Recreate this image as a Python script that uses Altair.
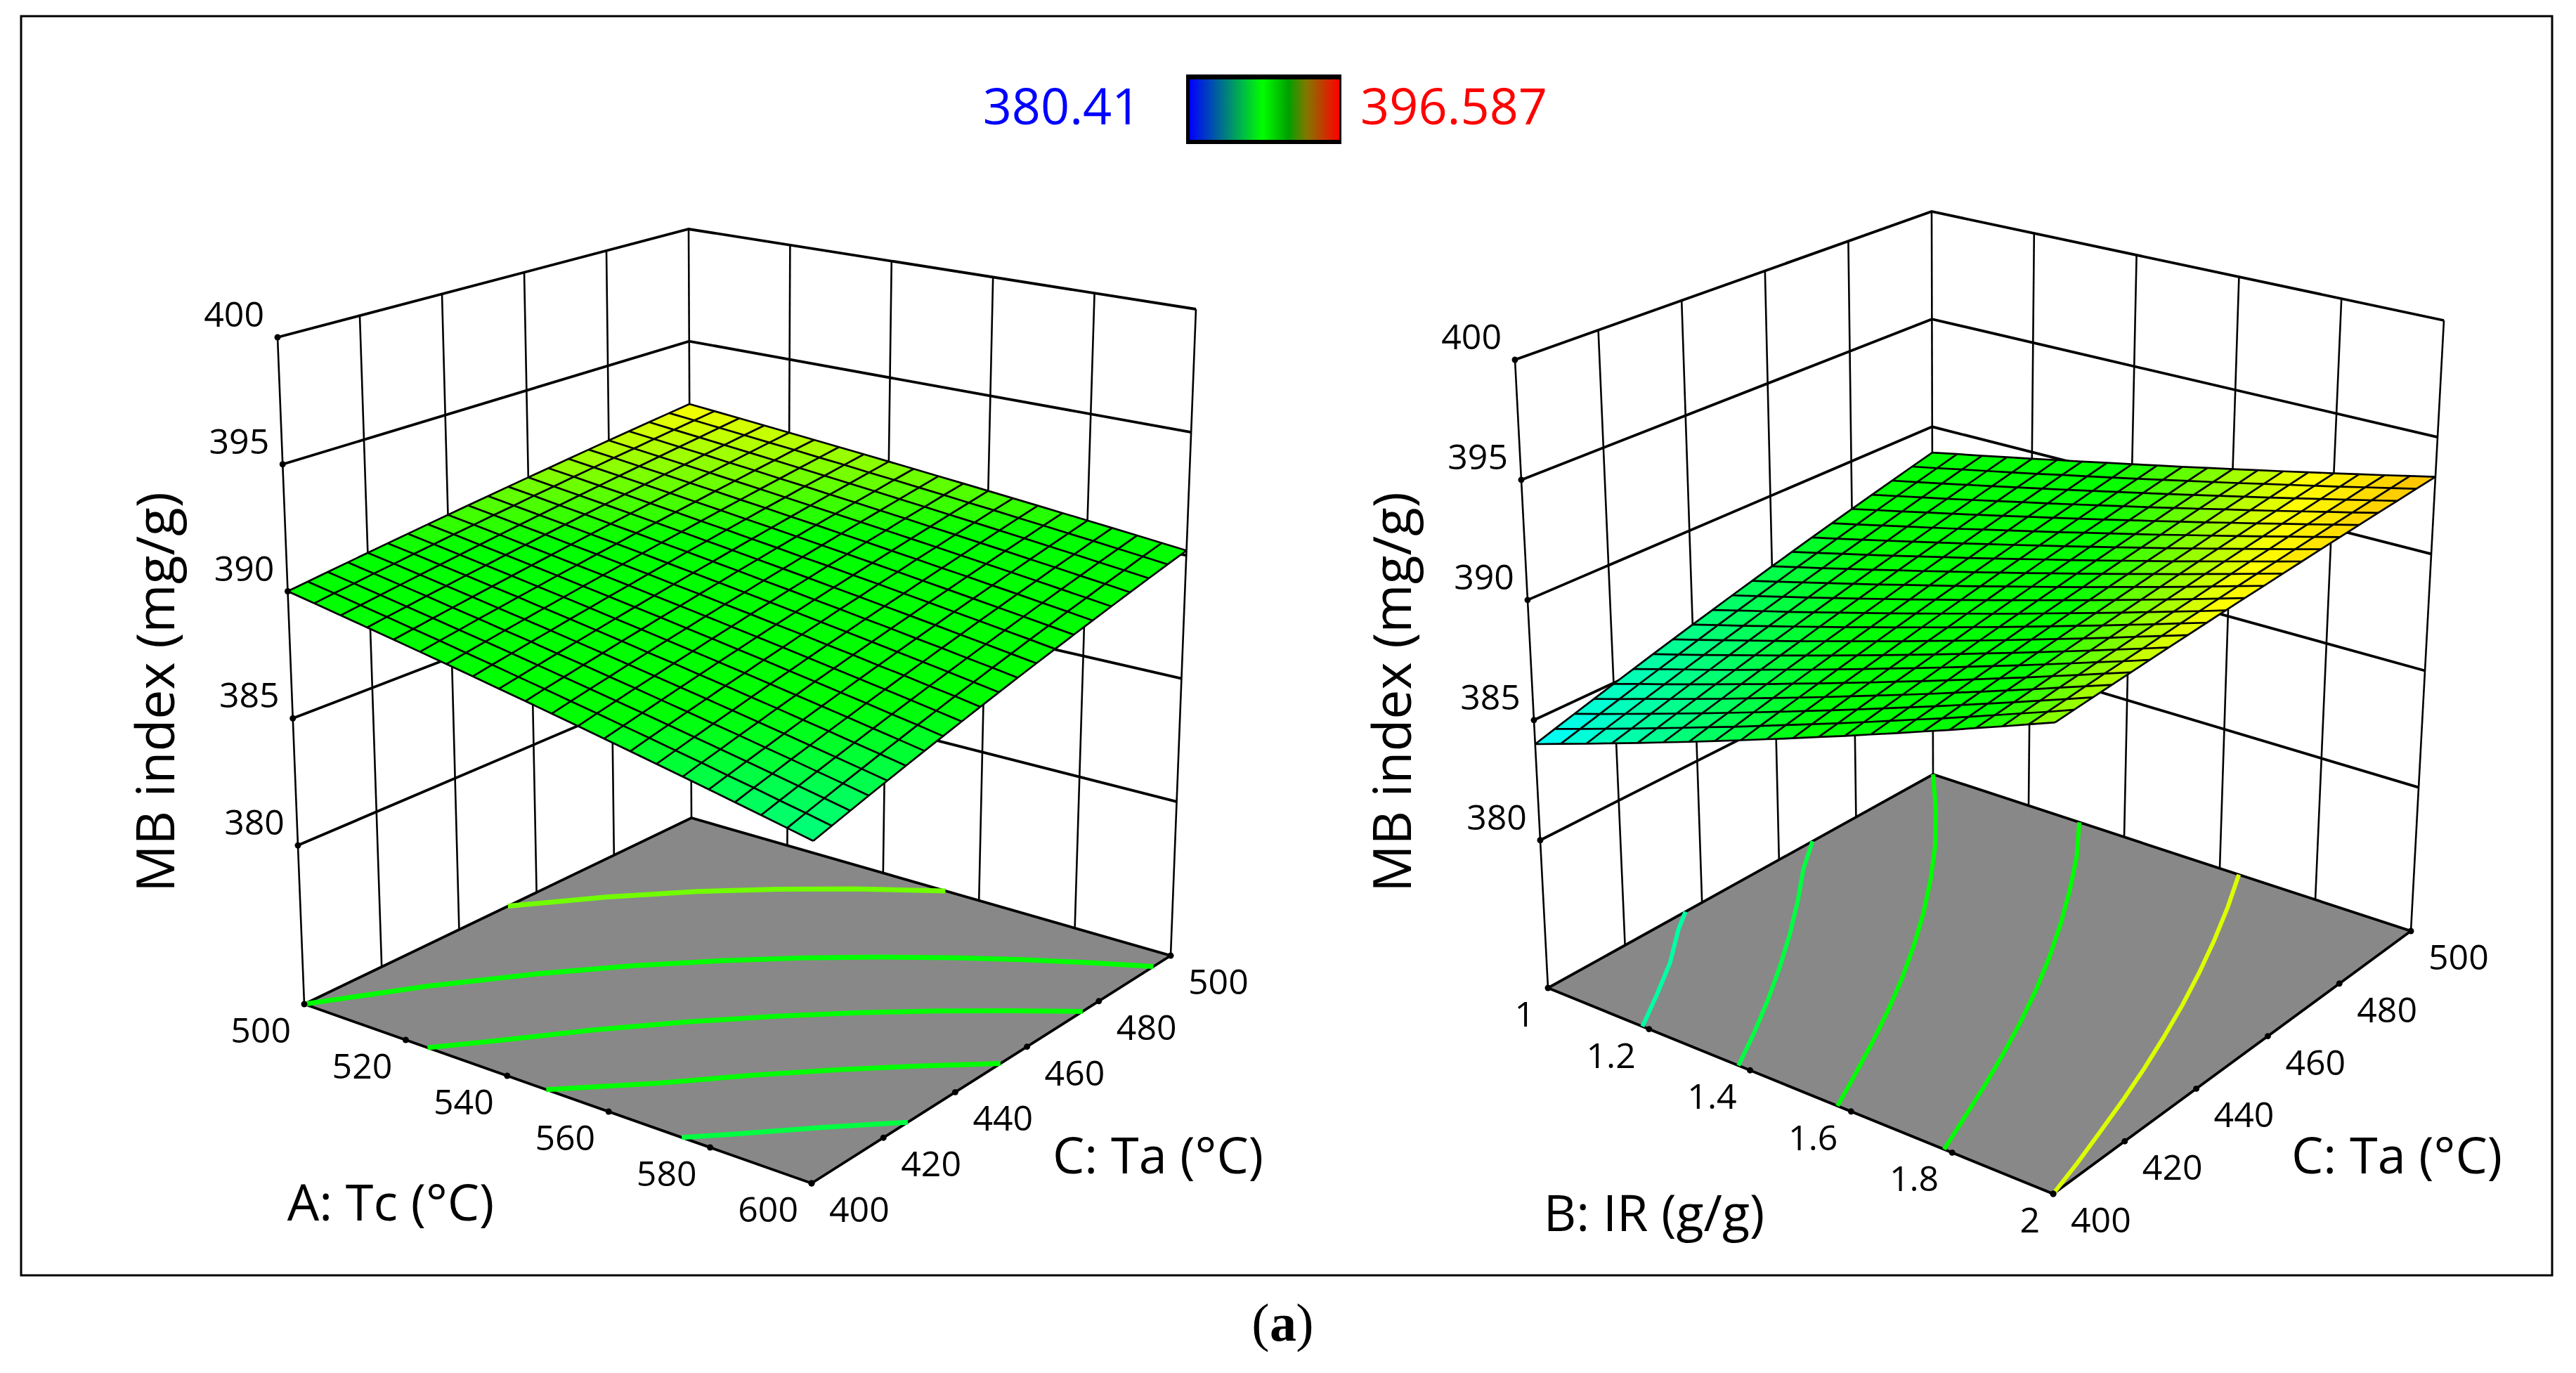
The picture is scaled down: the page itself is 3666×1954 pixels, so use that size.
import numpy as np
import pandas as pd
import altair as alt

alt.data_transformers.disable_max_rows()

# ---------- values ----------
Z_TICKS = [380, 385, 390, 395, 400]
TC_TICKS = [500, 520, 540, 560, 580, 600]
IR_TICKS = [1, 1.2, 1.4, 1.6, 1.8, 2]
IR_LABELS = ["1", "1.2", "1.4", "1.6", "1.8", "2"]
TA_TICKS = [400, 420, 440, 460, 480, 500]
TITLE_Y = "MB index (mg/g)"
LEGEND_MIN = 380.41
LEGEND_MAX = 396.587

# surface rows: Tc (or IR) low -> high, columns: Ta 400 -> 500
Z_LEFT = [
[390.00,390.11,390.22,390.33,390.44,390.55,390.66,390.77,390.88,390.99,391.10,391.21,391.32,391.43,391.54,391.65,391.76,391.87,391.98,392.09,392.20],
[389.80,389.92,390.03,390.15,390.26,390.38,390.49,390.61,390.72,390.84,390.95,391.07,391.18,391.30,391.41,391.53,391.64,391.76,391.87,391.99,392.10],
[389.60,389.72,389.84,389.96,390.08,390.20,390.32,390.44,390.56,390.68,390.80,390.92,391.04,391.16,391.28,391.40,391.52,391.64,391.76,391.88,392.00],
[389.40,389.53,389.65,389.78,389.90,390.03,390.15,390.28,390.40,390.53,390.65,390.78,390.90,391.03,391.15,391.28,391.40,391.53,391.65,391.78,391.90],
[389.20,389.33,389.46,389.59,389.72,389.85,389.98,390.11,390.24,390.37,390.50,390.63,390.76,390.89,391.02,391.15,391.28,391.41,391.54,391.67,391.80],
[389.00,389.14,389.27,389.41,389.54,389.68,389.81,389.95,390.08,390.22,390.35,390.49,390.62,390.76,390.89,391.03,391.16,391.30,391.43,391.57,391.70],
[388.80,388.94,389.08,389.22,389.36,389.50,389.64,389.78,389.92,390.06,390.20,390.34,390.48,390.62,390.76,390.90,391.04,391.18,391.32,391.46,391.60],
[388.60,388.75,388.89,389.04,389.18,389.33,389.47,389.62,389.76,389.91,390.05,390.20,390.34,390.49,390.63,390.78,390.92,391.07,391.21,391.36,391.50],
[388.40,388.55,388.70,388.85,389.00,389.15,389.30,389.45,389.60,389.75,389.90,390.05,390.20,390.35,390.50,390.65,390.80,390.95,391.10,391.25,391.40],
[388.20,388.36,388.51,388.67,388.82,388.98,389.13,389.29,389.44,389.60,389.75,389.91,390.06,390.22,390.37,390.53,390.68,390.84,390.99,391.15,391.30],
[388.00,388.16,388.32,388.48,388.64,388.80,388.96,389.12,389.28,389.44,389.60,389.76,389.92,390.08,390.24,390.40,390.56,390.72,390.88,391.04,391.20],
[387.80,387.97,388.13,388.30,388.46,388.63,388.79,388.96,389.12,389.29,389.45,389.62,389.78,389.95,390.11,390.28,390.44,390.61,390.77,390.94,391.10],
[387.60,387.77,387.94,388.11,388.28,388.45,388.62,388.79,388.96,389.13,389.30,389.47,389.64,389.81,389.98,390.15,390.32,390.49,390.66,390.83,391.00],
[387.40,387.58,387.75,387.93,388.10,388.28,388.45,388.63,388.80,388.98,389.15,389.33,389.50,389.68,389.85,390.03,390.20,390.38,390.55,390.73,390.90],
[387.20,387.38,387.56,387.74,387.92,388.10,388.28,388.46,388.64,388.82,389.00,389.18,389.36,389.54,389.72,389.90,390.08,390.26,390.44,390.62,390.80],
[387.00,387.19,387.37,387.56,387.74,387.93,388.11,388.30,388.48,388.67,388.85,389.04,389.22,389.41,389.59,389.78,389.96,390.15,390.33,390.52,390.70],
[386.80,386.99,387.18,387.37,387.56,387.75,387.94,388.13,388.32,388.51,388.70,388.89,389.08,389.27,389.46,389.65,389.84,390.03,390.22,390.41,390.60],
[386.60,386.80,386.99,387.19,387.38,387.58,387.77,387.97,388.16,388.36,388.55,388.75,388.94,389.14,389.33,389.53,389.72,389.92,390.11,390.31,390.50],
[386.40,386.60,386.80,387.00,387.20,387.40,387.60,387.80,388.00,388.20,388.40,388.60,388.80,389.00,389.20,389.40,389.60,389.80,390.00,390.20,390.40],
[386.20,386.41,386.61,386.82,387.02,387.23,387.43,387.64,387.84,388.05,388.25,388.46,388.66,388.87,389.07,389.28,389.48,389.69,389.89,390.10,390.30],
[386.00,386.21,386.42,386.63,386.84,387.05,387.26,387.47,387.68,387.89,388.10,388.31,388.52,388.73,388.94,389.15,389.36,389.57,389.78,389.99,390.20],
]
Z_RIGHT = [
[384.00,384.24,384.48,384.72,384.96,385.20,385.44,385.68,385.92,386.16,386.40,386.64,386.88,387.12,387.36,387.60,387.84,388.08,388.32,388.56,388.80],
[384.38,384.61,384.84,385.07,385.31,385.54,385.77,386.00,386.24,386.47,386.70,386.93,387.17,387.40,387.63,387.86,388.10,388.33,388.56,388.79,389.03],
[384.75,384.98,385.20,385.43,385.65,385.88,386.10,386.33,386.55,386.78,387.00,387.23,387.45,387.68,387.90,388.13,388.35,388.58,388.80,389.03,389.25],
[385.13,385.34,385.56,385.78,386.00,386.21,386.43,386.65,386.87,387.08,387.30,387.52,387.74,387.95,388.17,388.39,388.61,388.82,389.04,389.26,389.48],
[385.50,385.71,385.92,386.13,386.34,386.55,386.76,386.97,387.18,387.39,387.60,387.81,388.02,388.23,388.44,388.65,388.86,389.07,389.28,389.49,389.70],
[385.88,386.08,386.28,386.48,386.69,386.89,387.09,387.29,387.50,387.70,387.90,388.10,388.31,388.51,388.71,388.91,389.12,389.32,389.52,389.72,389.93],
[386.25,386.45,386.64,386.84,387.03,387.23,387.42,387.62,387.81,388.01,388.20,388.40,388.59,388.79,388.98,389.18,389.37,389.57,389.76,389.96,390.15],
[386.63,386.81,387.00,387.19,387.38,387.56,387.75,387.94,388.13,388.31,388.50,388.69,388.88,389.06,389.25,389.44,389.63,389.81,390.00,390.19,390.38],
[387.00,387.18,387.36,387.54,387.72,387.90,388.08,388.26,388.44,388.62,388.80,388.98,389.16,389.34,389.52,389.70,389.88,390.06,390.24,390.42,390.60],
[387.38,387.55,387.72,387.89,388.07,388.24,388.41,388.58,388.76,388.93,389.10,389.27,389.45,389.62,389.79,389.96,390.14,390.31,390.48,390.65,390.83],
[387.75,387.92,388.08,388.25,388.41,388.58,388.74,388.91,389.07,389.24,389.40,389.57,389.73,389.90,390.06,390.23,390.39,390.56,390.72,390.89,391.05],
[388.13,388.28,388.44,388.60,388.76,388.91,389.07,389.23,389.39,389.54,389.70,389.86,390.02,390.17,390.33,390.49,390.65,390.80,390.96,391.12,391.28],
[388.50,388.65,388.80,388.95,389.10,389.25,389.40,389.55,389.70,389.85,390.00,390.15,390.30,390.45,390.60,390.75,390.90,391.05,391.20,391.35,391.50],
[388.88,389.02,389.16,389.30,389.45,389.59,389.73,389.87,390.02,390.16,390.30,390.44,390.59,390.73,390.87,391.01,391.16,391.30,391.44,391.58,391.73],
[389.25,389.39,389.52,389.66,389.79,389.93,390.06,390.20,390.33,390.47,390.60,390.74,390.87,391.01,391.14,391.28,391.41,391.55,391.68,391.82,391.95],
[389.63,389.75,389.88,390.01,390.14,390.26,390.39,390.52,390.65,390.77,390.90,391.03,391.16,391.28,391.41,391.54,391.67,391.79,391.92,392.05,392.18],
[390.00,390.12,390.24,390.36,390.48,390.60,390.72,390.84,390.96,391.08,391.20,391.32,391.44,391.56,391.68,391.80,391.92,392.04,392.16,392.28,392.40],
[390.38,390.49,390.60,390.71,390.83,390.94,391.05,391.16,391.28,391.39,391.50,391.61,391.73,391.84,391.95,392.06,392.18,392.29,392.40,392.51,392.63],
[390.75,390.86,390.96,391.07,391.17,391.28,391.38,391.49,391.59,391.70,391.80,391.91,392.01,392.12,392.22,392.33,392.43,392.54,392.64,392.75,392.85],
[391.13,391.22,391.32,391.42,391.52,391.61,391.71,391.81,391.91,392.00,392.10,392.20,392.30,392.39,392.49,392.59,392.69,392.78,392.88,392.98,393.08],
[391.50,391.59,391.68,391.77,391.86,391.95,392.04,392.13,392.22,392.31,392.40,392.49,392.58,392.67,392.76,392.85,392.94,393.03,393.12,393.21,393.30],
]

# contour lines on the floor: level, factor (Tc / IR) values, Ta values
CONTOURS_LEFT = [
 (391.2, [500,510,520,530,540,553], [452.6,465.7,476.3,484.9,492.2,500]),
 (390, [500,510,520,530,540,550,560,570,580,590,600], [400,418.8,433.9,446.3,456.7,465.6,473.2,479.8,485.6,490.7,495.2]),
 (389, [524.3,530,540,550,560,570,580,590,600], [400,408.1,422.5,434.7,445.2,454.3,462.2,469.2,475.5]),
 (388, [547.7,560,570,580,590,600], [400,413.5,425.2,435.5,444.5,452.6]),
 (387, [574.4,580,590,600], [400,406.0,417.0,426.8]),
]
CONTOURS_RIGHT = [
 (385.5, [1.187,1.14,1.09,1.03,1.0], [400,410,420,430,435.7]),
 (387.0, [1.377,1.333,1.285,1.233,1.177,1.116,1.05,1.0], [400,410,420,430,440,450,460,468.7]),
 (388.5, [1.573,1.535,1.495,1.452,1.405,1.353,1.296,1.233,1.164,1.086,1.0], [400,410,420,430,440,450,460,470,480,490,500]),
 (390.0, [1.784,1.752,1.719,1.683,1.644,1.601,1.553,1.5,1.442,1.379,1.306], [400,410,420,430,440,450,460,470,480,490,500]),
 (391.95, [2.0,1.977,1.951,1.924,1.894,1.861,1.825,1.785,1.741,1.693,1.64], [400,410,420,430,440,450,460,470,480,490,500]),
]

# ---------- view of each 3-D box: where its eight corners fall on the page ----------
# corner order: (low A, low C), (high A, low C), (high A, high C), (low A, high C)
FLOOR_LEFT = 373.75
FLOOR_RIGHT = 373.85
BOX_LEFT = dict(floor=[(433,1429),(1155,1684),(1666,1360),(984,1164)],
                top=[(395,480),(1160,640),(1702,440),(980,326)])
BOX_RIGHT = dict(floor=[(2203,1406),(2922,1699),(3431,1325),(2751,1102)],
                 top=[(2156,512),(2926,705),(3478,456),(2749,301)])

def project(box, fl, u, v, z):
    t = (z - fl) / (400.0 - fl)
    def bil(q):
        q = np.array(q, float)
        return (1-u)*(1-v)*q[0] + u*(1-v)*q[1] + u*v*q[2] + (1-u)*v*q[3]
    p = (1-t)*bil(box["floor"]) + t*bil(box["top"])
    return float(p[0]), float(p[1])

PANELS = [
    dict(name="L", cam=BOX_LEFT, floor=FLOOR_LEFT, z=Z_LEFT, contours=CONTOURS_LEFT,
         a0=500.0, a1=600.0, aticks=TC_TICKS, alabels=[str(t) for t in TC_TICKS]),
    dict(name="R", cam=BOX_RIGHT, floor=FLOOR_RIGHT, z=Z_RIGHT, contours=CONTOURS_RIGHT,
         a0=1.0, a1=2.0, aticks=IR_TICKS, alabels=IR_LABELS),
]

hlines, vlines, floors, cells, mesh, dots, contours = [], [], [], [], [], [], []
zlab, alab, clab = [], [], []

for P in PANELS:
    cam, fl, nm = P["cam"], P["floor"], P["name"]
    ua = [(t - P["a0"]) / (P["a1"] - P["a0"]) for t in P["aticks"]]
    vc = [(t - 400.0) / 100.0 for t in TA_TICKS]
    def add(store, key, pts, **extra):
        for s, (u, v, z) in enumerate(pts):
            x, y = project(cam, fl, u, v, z)
            store.append(dict(k=f"{nm}{key}", s=s, x=x, y=y, **extra))
    for t in Z_TICKS:
        add(hlines, f"z{t}", [(0,0,t),(0,1,t),(1,1,t)])
    for v in vc:
        add(vlines, f"a{v}", [(0,v,fl),(0,v,400)])
    for u in ua[1:]:
        add(vlines, f"b{u}", [(u,1,fl),(u,1,400)])
    add(floors, "f", [(0,0,fl),(1,0,fl),(1,1,fl),(0,1,fl),(0,0,fl)])
    g = P["z"]
    n = len(g) - 1
    for i in range(n):
        for j in range(n):
            m = (g[i][j] + g[i+1][j] + g[i+1][j+1] + g[i][j+1]) / 4.0
            add(cells, f"c{i}_{j}", [(i/n, j/n, g[i][j]), ((i+1)/n, j/n, g[i+1][j]),
                                     ((i+1)/n, (j+1)/n, g[i+1][j+1]), (i/n, (j+1)/n, g[i][j+1]),
                                     (i/n, j/n, g[i][j])], zv=m)
    for i in range(n + 1):
        add(mesh, f"r{i}", [(i/n, j/n, g[i][j]) for j in range(n + 1)])
        add(mesh, f"q{i}", [(j/n, i/n, g[j][i]) for j in range(n + 1)])
    for lev, av, cv in P["contours"]:
        add(contours, f"l{lev}", [((a - P["a0"]) / (P["a1"] - P["a0"]), (c - 400.0) / 100.0, fl) for a, c in zip(av, cv)],
            lev=lev, panel=nm)
    for t in Z_TICKS:
        x, y = project(cam, fl, 0, 0, t); dots.append(dict(x=x, y=y)); zlab.append(dict(x=x, y=y, t=str(t)))
    for u, lab in zip(ua, P["alabels"]):
        x, y = project(cam, fl, u, 0, fl); dots.append(dict(x=x, y=y)); alab.append(dict(x=x, y=y, t=lab))
    for v, lab in zip(vc, TA_TICKS):
        x, y = project(cam, fl, 1, v, fl); dots.append(dict(x=x, y=y)); clab.append(dict(x=x, y=y, t=str(lab)))

# ---------- page ----------
W, H = 3650, 1938
X = alt.X("x:Q", scale=alt.Scale(domain=[8, 8 + W], nice=False, zero=False), axis=None)
Y = alt.Y("y:Q", scale=alt.Scale(domain=[8 + H, 8], nice=False, zero=False), axis=None)
HEAT_DOMAIN = [LEGEND_MIN, 384.1, 388.0, 390.4, 392.2, LEGEND_MAX]
HEAT_RANGE = ["#0000ff", "#00ffff", "#00ff00", "#00ff00", "#ffff00", "#ff0000"]
HEAT = alt.Scale(domain=HEAT_DOMAIN, range=HEAT_RANGE, interpolate="rgb")
SANS = "Open Sans"
ONE = pd.DataFrame({"a": [0]})
ORDER = alt.Order("s:Q")

def px(v):   return alt.value(v - 8)

frame = alt.Chart(ONE).mark_rect(fill="white", stroke="black", strokeWidth=3).encode(
    x=px(30), x2=px(3632), y=px(23), y2=px(1815))

h_layer = alt.Chart(pd.DataFrame(hlines)).mark_line(color="black", strokeWidth=3.8, strokeJoin="miter").encode(
    x=X, y=Y, detail="k:N", order=ORDER)
v_layer = alt.Chart(pd.DataFrame(vlines)).mark_line(color="black", strokeWidth=2.6).encode(
    x=X, y=Y, detail="k:N", order=ORDER)
floor_layer = alt.Chart(pd.DataFrame(floors)).mark_line(fill="#888888", stroke="black", strokeWidth=3.8).encode(
    x=X, y=Y, detail="k:N", order=ORDER)

cdf = pd.DataFrame(contours)
def contour_layer(panel, w):
    return alt.Chart(cdf[cdf.panel == panel]).mark_line(strokeWidth=w).encode(
        x=X, y=Y, detail="k:N", order=ORDER,
        stroke=alt.Stroke("lev:Q", scale=HEAT, legend=None))

cell_layer = alt.Chart(pd.DataFrame(cells)).mark_line(strokeWidth=0.8).encode(
    x=X, y=Y, detail="k:N", order=ORDER,
    fill=alt.Fill("zv:Q", scale=HEAT, legend=None),
    stroke=alt.Stroke("zv:Q", scale=HEAT, legend=None))
mesh_layer = alt.Chart(pd.DataFrame(mesh)).mark_line(color="#000000", strokeWidth=2.7).encode(
    x=X, y=Y, detail="k:N", order=ORDER)
dot_layer = alt.Chart(pd.DataFrame(dots)).mark_point(filled=True, color="black", opacity=1, size=80).encode(x=X, y=Y)

def labels(rows, align, dx, dy):
    return alt.Chart(pd.DataFrame(rows)).mark_text(
        font=SANS, fontSize=50, color="black", align=align, baseline="middle", dx=dx, dy=dy
    ).encode(x=X, y=Y, text="t:N")

z_text = labels(zlab, "right", -19, -30)
a_text = labels(alab, "right", -19, 40)
c_text = labels(clab, "left", 25, 40)

def free_text(text, x, y, size, font=SANS, color="black", angle=0, weight="normal"):
    return alt.Chart(pd.DataFrame({"t": [text]})).mark_text(
        font=font, fontSize=size, color=color, angle=angle, fontWeight=weight,
        align="center", baseline="middle"
    ).encode(x=px(x), y=px(y), text="t:N")

gradient = alt.Gradient(
    gradient="linear", x1=0, x2=1, y1=0, y2=0,
    stops=[alt.GradientStop(color="#0000ff", offset=0),
           alt.GradientStop(color="#00ff00", offset=0.487),
           alt.GradientStop(color="#00a000", offset=0.66),
           alt.GradientStop(color="#827800", offset=0.78),
           alt.GradientStop(color="#ff0000", offset=1)])
bar_back = alt.Chart(ONE).mark_rect(color="black").encode(x=px(1688), x2=px(1909), y=px(106), y2=px(205))
bar_grad = alt.Chart(ONE).mark_rect(color=gradient).encode(x=px(1693), x2=px(1906), y=px(113), y2=px(199))

chart = alt.layer(
    frame, h_layer, v_layer, floor_layer,
    contour_layer("L", 7), contour_layer("R", 6),
    cell_layer, mesh_layer, dot_layer,
    z_text, a_text, c_text,
    free_text(TITLE_Y, 225, 985, 75, angle=270),
    free_text(TITLE_Y, 1985, 985, 75, angle=270),
    free_text("A: Tc (°C)", 556, 1715, 72),
    free_text("C: Ta (°C)", 1648, 1648, 72),
    free_text("B: IR (g/g)", 2354, 1730, 72),
    free_text("C: Ta (°C)", 3411, 1648, 72),
    free_text(str(LEGEND_MIN), 1511, 155, 72, color="#0000ff"),
    free_text(str(LEGEND_MAX), 2069, 155, 72, color="#ff0000"),
    bar_back, bar_grad,
    free_text("(", 1794, 1885, 76, font="Liberation Serif"),
    free_text("a", 1826, 1885, 76, font="Liberation Serif", weight="bold"),
    free_text(")", 1857, 1885, 76, font="Liberation Serif"),
).properties(
    width=W, height=H, padding=0,
    autosize=alt.AutoSizeParams(type="none"),
).configure_view(stroke=None)

chart.save("out.html", embed_options={"renderer": "svg", "actions": False})
